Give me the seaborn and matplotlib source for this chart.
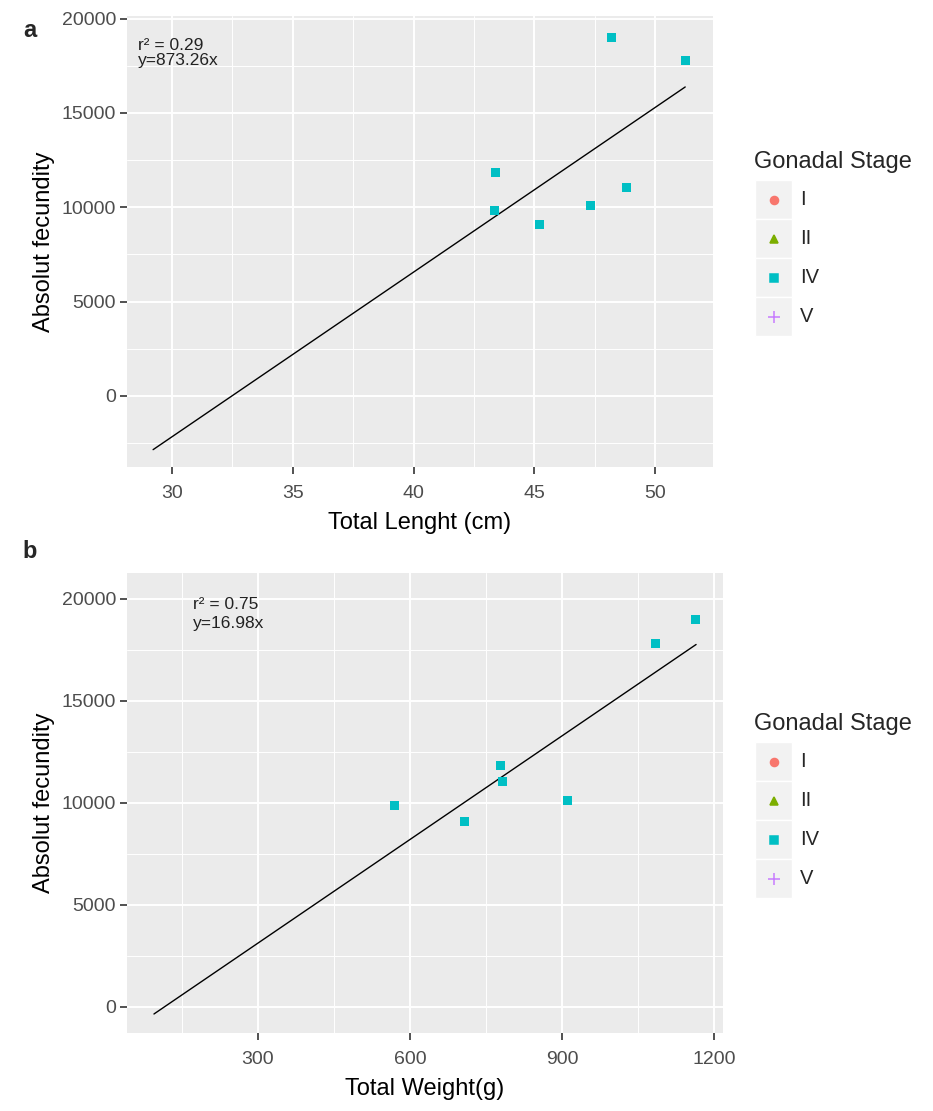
import numpy as np
import pandas as pd
import matplotlib.pyplot as plt
import seaborn as sns
from matplotlib.lines import Line2D
from matplotlib.patches import Rectangle
from matplotlib.ticker import MultipleLocator

# values (only stage IV has fecundity data)
fecundity = [19000, 17790, 11830, 11030, 10090, 9840, 9065]
length_cm = [48.19, 51.24, 43.38, 48.81, 47.33, 43.33, 45.21]
weight_g = [1164, 1084, 779, 783, 910, 570, 707]
stage = ['IV', 'IV', 'IV', 'IV', 'IV', 'IV', 'IV']

# end points of the fitted lines
fit_len_x = [29.22, 51.24]
fit_len_y = [-2850, 16380]
fit_wt_x = [94.7, 1164.5]
fit_wt_y = [-358, 17757]

stages = ['I', 'II', 'IV', 'V']
stage_colors = ['#F8766D', '#7CAE00', '#00BFC4', '#C77CFF']
stage_markers = ['o', '^', 's', '+']

df = pd.DataFrame({'Length': length_cm, 'Weight': weight_g,
                   'Fecundity': fecundity, 'Stage': stage})

sns.set_theme(style='darkgrid', rc={'axes.facecolor': '#EBEBEB', 'grid.color': 'white'})
plt.rcParams['font.family'] = ['Liberation Sans', 'DejaVu Sans']

W, H = 933, 1111
fig = plt.figure(figsize=(W / 100, H / 100), dpi=100)
ax1 = fig.add_axes([127 / W, 1 - 467 / H, 586 / W, 451 / H])
ax2 = fig.add_axes([127 / W, 1 - 1033 / H, 596 / W, 460 / H])


def style_axis(ax, xmaj, xmin_step):
    ax.xaxis.set_major_locator(MultipleLocator(xmaj))
    ax.xaxis.set_minor_locator(MultipleLocator(xmin_step))
    ax.yaxis.set_major_locator(MultipleLocator(5000))
    ax.yaxis.set_minor_locator(MultipleLocator(2500))
    ax.grid(which='major', color='white', lw=1.4)
    ax.grid(which='minor', color='white', lw=0.7)
    ax.tick_params(which='major', bottom=True, left=True, length=5, width=1.2,
                   color='#333333', labelcolor='#4D4D4D', labelsize=14)
    ax.tick_params(axis='x', which='major', pad=8)
    ax.tick_params(axis='y', which='major', pad=3)
    ax.tick_params(which='minor', length=0)
    for s in ax.spines.values():
        s.set_visible(False)


pal = dict(zip(stages, stage_colors))

# panel a - length
sns.lineplot(x=fit_len_x, y=fit_len_y, color='black', lw=1.0, ax=ax1)
sns.scatterplot(data=df, x='Length', y='Fecundity', hue='Stage', palette=pal,
                marker='s', s=42, edgecolor='none', legend=False, ax=ax1, zorder=3)
ax1.set_xlim(28.14, 52.39)
ax1.set_ylim(-3770, 20143)
style_axis(ax1, 5, 2.5)
ax1.set_xlabel('Total Lenght (cm)', fontsize=17, color='black', labelpad=7)
ax1.set_ylabel('Absolut fecundity', fontsize=17, color='black', labelpad=5)
ax1.text(28.6, 18340, 'r\u00b2 = 0.29', fontsize=12.5, color='#222222', va='baseline')
ax1.text(28.6, 17545, 'y=873.26x', fontsize=12.5, color='#222222', va='baseline')

# panel b - weight
sns.lineplot(x=fit_wt_x, y=fit_wt_y, color='black', lw=1.0, ax=ax2)
sns.scatterplot(data=df, x='Weight', y='Fecundity', hue='Stage', palette=pal,
                marker='s', s=42, edgecolor='none', legend=False, ax=ax2, zorder=3)
ax2.set_xlim(41.5, 1217.6)
ax2.set_ylim(-1290, 21262)
style_axis(ax2, 300, 150)
ax2.set_xlabel('Total Weight(g)', fontsize=17, color='black', labelpad=7)
ax2.set_ylabel('Absolut fecundity', fontsize=17, color='black', labelpad=5)
ax2.text(172, 19510, 'r\u00b2 = 0.75', fontsize=12.5, color='#222222', va='baseline')
ax2.text(172, 18577, 'y=16.98x', fontsize=12.5, color='#222222', va='baseline')


# ggplot-like legend drawn in figure pixels
def fx(px):
    return px / W


def fy(py):
    return 1 - py / H


def draw_legend(title_y):
    fig.text(fx(754), fy(title_y), 'Gonadal Stage', fontsize=17, va='center', ha='left')
    for i, (lab, col, mk) in enumerate(zip(stages, stage_colors, stage_markers)):
        top = title_y + 18 + i * 39
        fig.add_artist(Rectangle((fx(755), fy(top + 39)), 37 / W, 39 / H,
                                 transform=fig.transFigure, facecolor='#F2F2F2',
                                 edgecolor='white', lw=1))
        ms = 8.5 if mk == '+' else 5.8
        fig.add_artist(Line2D([fx(773.5)], [fy(top + 19.5)], marker=mk, color=col,
                              markersize=ms, mew=1.1, linestyle='none',
                              transform=fig.transFigure))
        fig.text(fx(800), fy(top + 19.5), lab, fontsize=14.5, va='center', ha='left')


draw_legend(162)
draw_legend(724)

fig.text(fx(23), fy(37), 'a', fontsize=17, fontweight='bold', va='baseline')
fig.text(fx(22), fy(558), 'b', fontsize=17, fontweight='bold', va='baseline')

fig.savefig('out.png', dpi=100)
